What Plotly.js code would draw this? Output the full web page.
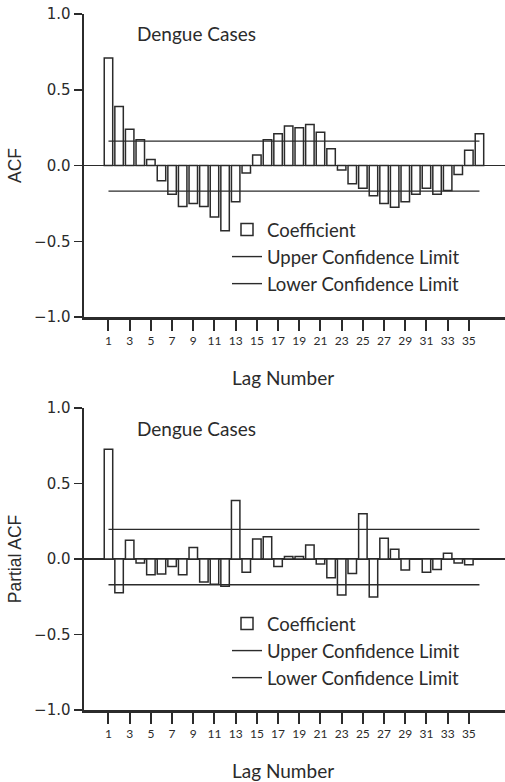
<!DOCTYPE html>
<html>
<head>
<meta charset="utf-8">
<script src="https://cdn.plot.ly/plotly-3.0.1.min.js"></script>
<style>html,body{margin:0;padding:0;background:#fff;}#chart{width:505px;height:782px;}</style>
</head>
<body>
<div id="chart"></div>
<script>
// ---- data ----
const lags = [1,2,3,4,5,6,7,8,9,10,11,12,13,14,15,16,17,18,19,20,21,22,23,24,25,26,27,28,29,30,31,32,33,34,35,36];
const acf = [0.71,0.39,0.24,0.17,0.04,-0.10,-0.19,-0.27,-0.25,-0.27,-0.34,-0.43,-0.24,-0.05,0.07,0.17,0.21,0.26,0.25,0.27,0.22,0.11,-0.03,-0.12,-0.15,-0.20,-0.25,-0.275,-0.24,-0.19,-0.15,-0.19,-0.165,-0.06,0.10,0.21];
const pacf = [0.727,-0.224,0.124,-0.027,-0.104,-0.10,-0.05,-0.104,0.076,-0.153,-0.167,-0.18,0.387,-0.087,0.133,0.147,-0.05,0.016,0.016,0.093,-0.033,-0.124,-0.238,-0.096,0.30,-0.251,0.138,0.064,-0.073,0.0,-0.087,-0.069,0.038,-0.027,-0.038,0.0];
const limitLags = [1, 36];
const acfUpper = [0.161, 0.161];
const acfLower = [-0.169, -0.169];
const pacfUpper = [0.196, 0.196];
const pacfLower = [-0.171, -0.171];
const tickLags = [1,3,5,7,9,11,13,15,17,19,21,23,25,27,29,31,33,35];
const titleText = "Dengue Cases";
const xTitle = "Lag Number";
const yTitleTop = "ACF";
const yTitleBottom = "Partial ACF";
const names = ["Coefficient", "Upper Confidence Limit", "Lower Confidence Limit"];

// ---- styles ----
const ink = '#2b2b2b';
const W = 505, H = 782, L = 84;
const px = v => (v - L) / (W - L);
const py = v => 1 - v / H;

function bars(y, xa, ya, leg) {
  return {type:'bar', x: lags, y: y, xaxis: xa, yaxis: ya, name: names[0], legend: leg,
    marker:{color:'#ffffff', line:{color:ink, width:1.5}}, hoverinfo:'x+y'};
}
function limit(y, xa, ya, leg, i) {
  return {type:'scatter', mode:'lines', x: limitLags, y: y, xaxis: xa, yaxis: ya, name: names[i], legend: leg,
    line:{color:ink, width:1.4}};
}

const data = [
  bars(acf, 'x', 'y', 'legend'),
  limit(acfUpper, 'x', 'y', 'legend', 1),
  limit(acfLower, 'x', 'y', 'legend', 2),
  bars(pacf, 'x2', 'y2', 'legend2'),
  limit(pacfUpper, 'x2', 'y2', 'legend2', 1),
  limit(pacfLower, 'x2', 'y2', 'legend2', 2)
];

const xRange = [-1.31, 38.41];
function xax(anchor) {
  return {anchor: anchor, domain:[0,1], range: xRange, tickmode:'array', tickvals: tickLags,
    ticktext: tickLags.map(String), ticks:'outside', ticklen:11, tickwidth:2, tickcolor:ink,
    showline:true, linewidth:2.5, linecolor:ink, showgrid:false, zeroline:false, automargin:false,
    tickfont:{family:'Lato, sans-serif', size:12, color:ink}, fixedrange:true};
}
function yax(anchor, dom, title) {
  return {anchor: anchor, domain: dom, range:[-1,1], tickmode:'array', tickvals:[-1,-0.5,0,0.5,1],
    tickformat:'.1f', ticks:'outside', ticklen:8, tickwidth:1.5, tickcolor:ink,
    showline:true, linewidth:2.5, linecolor:ink, showgrid:false,
    zeroline:true, zerolinecolor:ink, zerolinewidth:1.3, automargin:false,
    tickfont:{family:'DejaVu Sans, sans-serif', size:15, color:ink},
    title:{text: title, standoff:8, font:{family:'Liberation Sans, Arial, sans-serif', size:17.5, color:ink}},
    fixedrange:true};
}
function legendAt(xp, yp) {
  return {x: px(xp), y: py(yp), xanchor:'left', yanchor:'top', bgcolor:'rgba(0,0,0,0)',
    borderwidth:0, itemwidth:30, tracegroupgap:0,
    font:{family:'Lato, sans-serif', size:18.5, color:ink}};
}
function ann(text, xp, yp, size) {
  return {text: text, xref:'paper', yref:'paper', x: px(xp), y: py(yp), xanchor:'center', yanchor:'middle',
    showarrow:false, font:{family:'Lato, sans-serif', size:size, color:ink}};
}

const layout = {
  width: W, height: H, margin:{l:L, r:0, t:0, b:0}, paper_bgcolor:'#fff', plot_bgcolor:'#fff',
  bargap: 0.2, showlegend: true,
  xaxis: xax('y'), yaxis: yax('x', [py(317), py(14)], yTitleTop),
  xaxis2: xax('y2'), yaxis2: yax('x2', [py(710), py(408)], yTitleBottom),
  legend: legendAt(227, 211),
  legend2: legendAt(227, 605),
  annotations: [
    ann(titleText, 196, 33, 19),
    ann(titleText, 196, 428, 19),
    ann(xTitle, 283, 377, 19),
    ann(xTitle, 283, 770, 19)
  ]
};

Plotly.newPlot('chart', data, layout, {displayModeBar:false, staticPlot:true});
</script>
</body>
</html>
